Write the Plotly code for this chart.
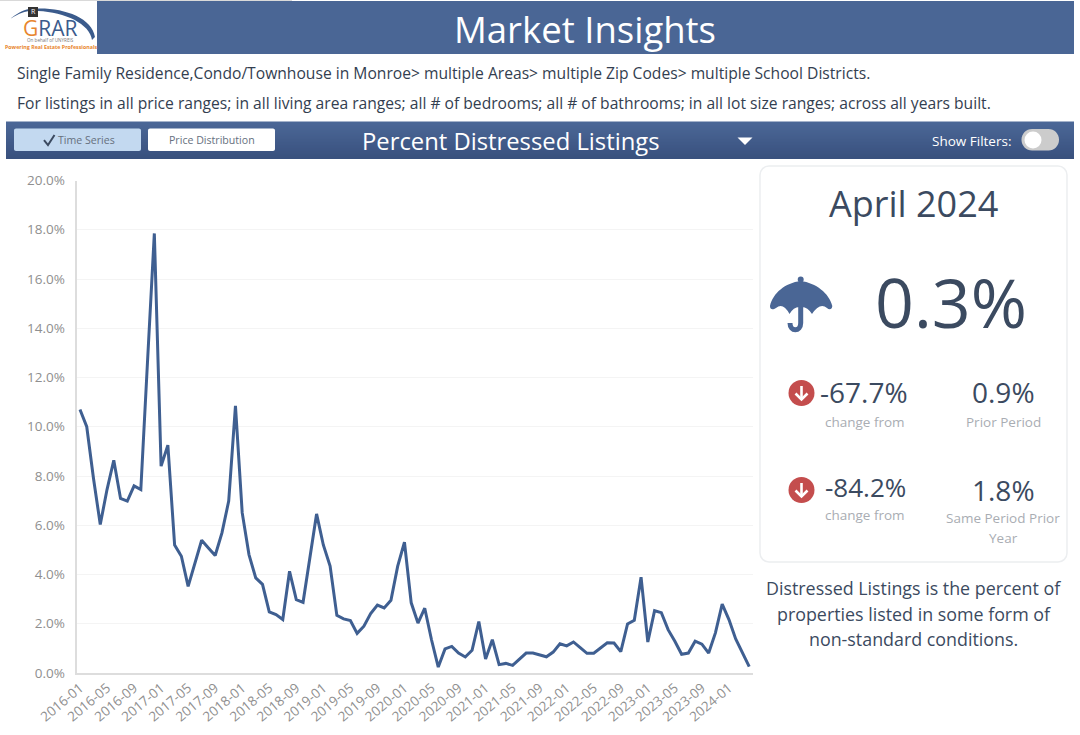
import pandas as pd
import plotly.graph_objects as go

months = pd.date_range("2016-01-01", "2024-04-01", freq="MS").strftime("%Y-%m").tolist()
pct_distressed = [
    10.7, 10.0, 7.9, 6.03, 7.45, 8.64, 7.09, 6.98, 7.6, 7.45, 12.7, 17.85,
    8.4, 9.25, 5.2, 4.74, 3.52, 4.47, 5.39, 5.08, 4.77, 5.69, 6.98, 10.85,
    6.5, 4.81, 3.86, 3.6, 2.48, 2.37, 2.17, 4.13, 2.98, 2.87, 4.6, 6.46,
    5.2, 4.34, 2.34, 2.2, 2.13, 1.61, 1.9, 2.41, 2.76, 2.64, 2.95, 4.34,
    5.31, 2.85, 2.03, 2.63, 1.35, 0.24, 0.98, 1.08, 0.81, 0.65, 0.92, 2.09,
    0.57, 1.35, 0.34, 0.39, 0.31, 0.58, 0.81, 0.81, 0.75, 0.66, 0.85, 1.19,
    1.1, 1.26, 1.03, 0.8, 0.8, 1.02, 1.23, 1.22, 0.87, 1.99, 2.14, 3.89,
    1.26, 2.53, 2.45, 1.76, 1.29, 0.76, 0.81, 1.29, 1.17, 0.81, 1.63, 2.8,
    2.17, 1.38, 0.85, 0.26,
]
tick_months = months[::4]

W, H = 1080, 735
FONT = "Open Sans"
BLUE = "#4a6695"
DARK = "#3b4a60"
GREY = "#a9adb3"


def fx(x):
    return x / W


def fy(y):
    return 1 - y / H


def path(*parts):
    """Build an SVG path in paper coordinates from pixel tuples."""
    out = []
    for p in parts:
        cmd, pts = p[0], p[1:]
        out.append(cmd + " ".join(f"{fx(pts[i]):.5f},{fy(pts[i+1]):.5f}" for i in range(0, len(pts), 2)))
    return " ".join(out)


shapes, notes = [], []


def rect(x0, y0, x1, y1, fill, line=None, lw=0):
    shapes.append(dict(type="rect", xref="paper", yref="paper", x0=fx(x0), x1=fx(x1), y0=fy(y1), y1=fy(y0),
                       fillcolor=fill, line=dict(color=line or fill, width=lw), layer="below"))


def rrect(x0, y0, x1, y1, r, fill, line=None, lw=0):
    k = r * 0.45
    d = path(("M", x0 + r, y0), ("L", x1 - r, y0), ("C", x1 - k, y0, x1, y0 + k, x1, y0 + r),
             ("L", x1, y1 - r), ("C", x1, y1 - k, x1 - k, y1, x1 - r, y1), ("L", x0 + r, y1),
             ("C", x0 + k, y1, x0, y1 - k, x0, y1 - r), ("L", x0, y0 + r), ("C", x0, y0 + k, x0 + k, y0, x0 + r, y0)) + " Z"
    shapes.append(dict(type="path", xref="paper", yref="paper", path=d, fillcolor=fill,
                       line=dict(color=line or fill, width=lw), layer="below"))


def circle(cx, cy, r, fill):
    shapes.append(dict(type="circle", xref="paper", yref="paper", x0=fx(cx - r), x1=fx(cx + r),
                       y0=fy(cy + r), y1=fy(cy - r), fillcolor=fill, line=dict(width=0), layer="above"))


def shp(d, fill=None, line=None, lw=0):
    s = dict(type="path", xref="paper", yref="paper", path=d, line=dict(color=line or "rgba(0,0,0,0)", width=lw), layer="above")
    if fill:
        s["fillcolor"] = fill
    shapes.append(s)


def text(x, y, s, size, color=DARK, anchor="center", family=FONT):
    notes.append(dict(xref="paper", yref="paper", x=fx(x), y=fy(y), text=s, showarrow=False, xanchor=anchor,
                      yanchor="middle", font=dict(family=family, size=size, color=color)))


# header and logo
rect(0, 0, 292, 1, "#d9d9d9")
rect(97, 1, 1074, 54, BLUE)
text(585, 29, "Market Insights", 36.5, "#ffffff")
shp(path(("M", 10, 19), ("C", 16, 14, 23, 10, 29, 9), ("L", 29, 11), ("C", 23, 12, 16, 15, 10, 19)) + " Z", "#3b5b8c")
shp(path(("M", 38, 8.5), ("C", 65, 8, 92, 18, 95, 37), ("L", 92, 40), ("C", 90, 24, 65, 12, 38, 11)) + " Z", "#3b5b8c")
rect(28, 7, 38, 17, "#333333")
shapes[-1]["layer"] = "above"
text(33, 11.5, "R", 7, "#ffffff")
text(50, 27.5, "<span style='color:#e8862e'>G</span>RAR", 21, "#3b5b8c")
text(50, 40.5, "On behalf of UNYREIS", 4.6, "#777777")
text(51, 47, "<b>Powering Real Estate Professionals</b>", 5.3, "#e8862e")

# subtitle lines
text(15, 72.5, "Single Family Residence,Condo/Townhouse in Monroe&gt; multiple Areas&gt; multiple Zip Codes&gt; multiple School Districts.", 15.65, "#333e50", "left")
text(15, 103, "For listings in all price ranges; in all living area ranges; all # of bedrooms; all # of bathrooms; in all lot size ranges; across all years built.", 15.65, "#333e50", "left")

# gradient toolbar
for i in range(37):
    c0, c1 = (76, 104, 151), (57, 81, 126)
    t = i / 36
    col = "rgb(%d,%d,%d)" % tuple(round(a + (b - a) * t) for a, b in zip(c0, c1))
    rect(6, 121.5 + i, 1074, 158.5, col)
rrect(14, 128.5, 141, 151, 2, "#c3d9f0")
rrect(148, 128.5, 275, 151, 2, "#ffffff")
shp(path(("M", 44, 140), ("L", 48, 145), ("L", 54.5, 135)), None, "#3b4a60", 2)
text(86, 139.5, "Time Series", 10.6, "#66707e")
text(211.5, 139.5, "Price Distribution", 10.6, "#66707e")
text(510.5, 141, "Percent Distressed Listings", 23.8, "#ffffff")
shp(path(("M", 737.5, 137.5), ("L", 752.5, 137.5), ("L", 745, 145)) + " Z", "#ffffff")
text(971.5, 140.5, "Show Filters:", 13.5, "#ffffff")
rrect(1021.5, 129, 1059, 150.5, 10.5, "#cccccc")
circle(1033, 140, 8.5, "#ffffff")

# stat card
rrect(760, 166, 1067, 562, 9, "#ffffff", "#eceef0", 1.5)
text(913, 203.5, "April 2024", 36, DARK)
text(951, 301, "0.3%", 68, DARK)
text(864, 392, "-67.7%", 28, DARK)
text(1003, 392, "0.9%", 28, DARK)
text(865, 422, "change from", 13.5, GREY)
text(1003, 422, "Prior Period", 13.5, GREY)
text(865, 487.5, "-84.2%", 26, DARK)
text(1003, 489.5, "1.8%", 28, DARK)
text(865, 515, "change from", 13.5, GREY)
text(1003, 518, "Same Period Prior", 13.5, GREY)
text(1003, 538, "Year", 13.5, GREY)
text(913.5, 587.5, "Distressed Listings is the percent of", 17.85, DARK)
text(913.5, 613.5, "properties listed in some form of", 17.85, DARK)
text(913.5, 639, "non-standard conditions.", 17.85, DARK)

# umbrella icon
shp(path(("M", 770, 306), ("C", 773, 293, 785, 283, 800.7, 281), ("C", 816, 283, 829, 293, 832.3, 306),
         ("C", 832, 310, 829, 310, 827, 308), ("Q", 820, 302, 812, 314), ("Q", 807, 306, 800.7, 307),
         ("Q", 794, 306, 789.5, 314), ("Q", 783, 302, 776, 308), ("C", 773, 310, 770, 310, 770, 306)) + " Z", BLUE)
circle(800.7, 279.5, 3, BLUE)
shp(path(("M", 800.7, 304), ("L", 800.7, 323), ("C", 800.7, 332, 790, 332, 790, 323)), None, BLUE, 5)

# change arrows
for cy in (393, 490):
    circle(801.5, cy, 13, "#c44d4d")
    shp(path(("M", 801.5, cy - 7), ("L", 801.5, cy + 6)), None, "#ffffff", 2.6)
    shp(path(("M", 795.5, cy + 0.5), ("L", 801.5, cy + 6.5), ("L", 807.5, cy + 0.5)), None, "#ffffff", 2.6)

fig = go.Figure(go.Scatter(x=months, y=pct_distressed, mode="lines", line=dict(color="#3f5f91", width=3), hoverinfo="x+y"))
fig.update_layout(
    width=W, height=H, autosize=False, margin=dict(l=0, r=0, t=0, b=0, autoexpand=False), showlegend=False,
    paper_bgcolor="#ffffff", plot_bgcolor="#ffffff", shapes=shapes, annotations=notes,
    font=dict(family=FONT),
    xaxis=dict(type="category", domain=[76.6 / W, 752.6 / W], range=[-0.5, 99.5], tickmode="array", automargin=False,
               tickvals=tick_months, ticktext=tick_months, tickangle=-40, showgrid=False,
               showline=True, linecolor="#dddddd", linewidth=2, ticks="", zeroline=False,
               tickfont=dict(family=FONT, size=13.5, color="#8f8f8f")),
    yaxis=dict(domain=[1 - 673 / H, 1 - 180.5 / H], range=[0, 20], dtick=2, tickformat=".1f", ticksuffix="%", automargin=False,
               showgrid=True, gridcolor="#f4f4f4", gridwidth=1, showline=True, linecolor="#dddddd", linewidth=2,
               zeroline=False, ticks="", ticklabelstandoff=7,
               tickfont=dict(family=FONT, size=13.5, color="#8f8f8f")),
)
fig.write_html("out.html", post_script="document.body.style.margin='0';document.documentElement.style.overflow='hidden';",
               config=dict(displayModeBar=False))
